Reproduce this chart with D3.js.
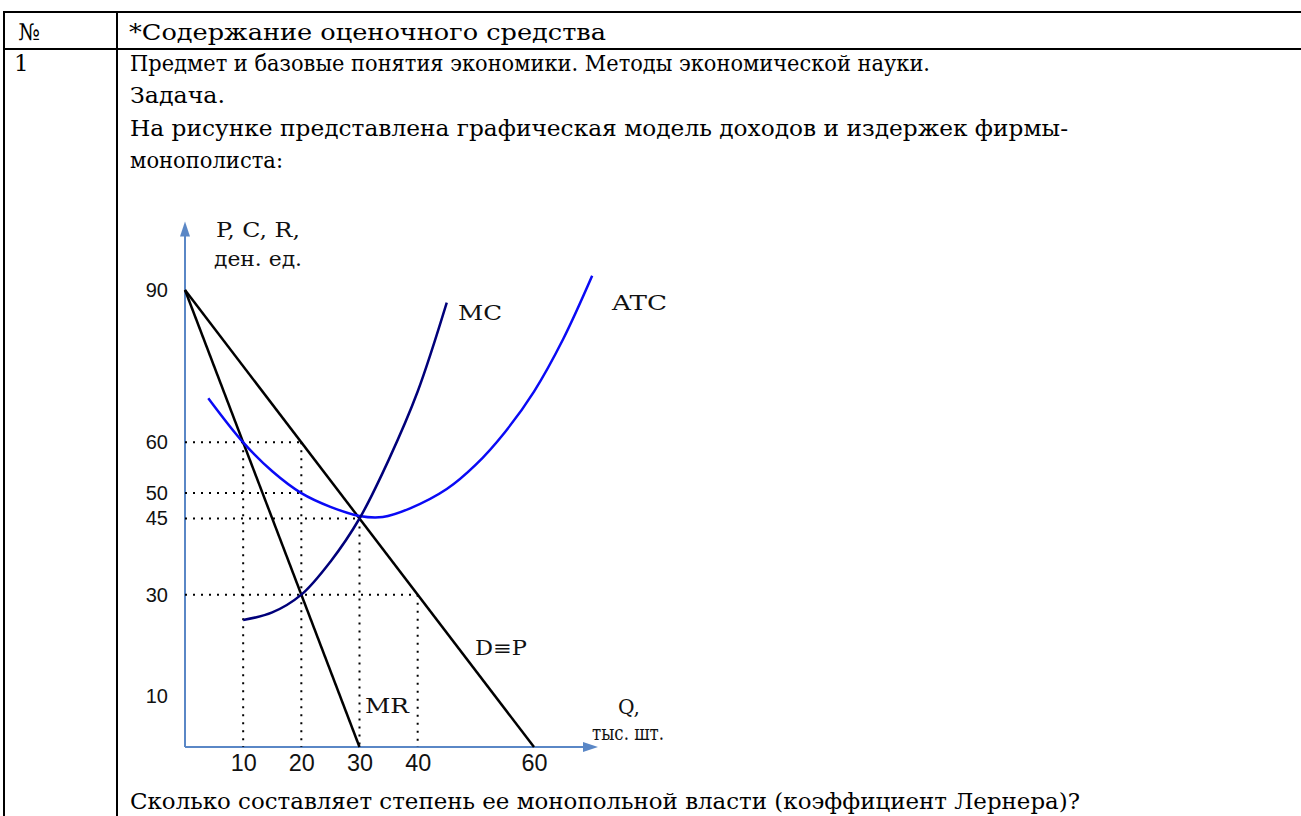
<!DOCTYPE html>
<html>
<head>
    <meta charset="utf-8">
    <title>Монополист</title>
    <script src="https://cdnjs.cloudflare.com/ajax/libs/d3/7.8.5/d3.min.js"></script>
    <style>
        html, body { margin: 0; padding: 0; background: #fff; overflow: hidden; }
        .doc { font-family: "DejaVu Serif", "Liberation Serif", serif; font-size: 23px; fill: #000; }
        .tick-y { font-family: "Liberation Sans", Arial, sans-serif; font-size: 20px; fill: #111; }
        .tick-x { font-family: "Liberation Sans", Arial, sans-serif; font-size: 24px; fill: #111; }
        .lbl { font-family: "DejaVu Serif", serif; font-size: 20px; fill: #111; }
    </style>
</head>
<body>
    <div id="chart"></div>

    <script>
        // Curves (Q in thousands, P in money units)
        const demand = [[0, 90], [60, 0]];
        const marginalRevenue = [[0, 90], [30, 0]];
        const marginalCost = [[10, 25], [15, 26.5], [20, 30], [25, 36.5], [30, 45], [35, 56.5], [40, 70], [45, 87.5]];
        const averageCost = [[4, 68.7], [10, 60], [15, 54.3], [20, 50], [25, 47.3], [30, 45.5], [34, 45.3],
                             [38.7, 47], [45, 50.8], [50, 55.6], [55, 62], [60, 70], [65, 80.3], [70, 92.8]];

        // tick labels
        const xTicks = [10, 20, 30, 40, 60];
        const yTicks = [10, 30, 45, 50, 60, 90];

        // dotted guides: [price, quantity reached]
        const hGuides = [[60, 20], [50, 20], [45, 30], [30, 40]];
        // [quantity, price reached]
        const vGuides = [[10, 60], [20, 60], [30, 45], [40, 30]];

        const width = 1301;
        const height = 816;

        const svg = d3.select('#chart')
            .append('svg')
            .attr('width', width)
            .attr('height', height);

        // --- document table around the picture ---
        const table = svg.append('g');
        const border = (x1, y1, x2, y2) => table.append('line')
            .attr('x1', x1).attr('y1', y1).attr('x2', x2).attr('y2', y2)
            .attr('stroke', '#000').attr('stroke-width', 2);
        border(4, 12, width + 5, 12);
        border(4, 49, width + 5, 49);
        border(4, 11, 4, height + 5);
        border(117, 11, 117, height + 5);

        // widths of the lines as they sit in the scan
        const docText = (x, y, t, w) => {
            const el = table.append('text').attr('class', 'doc')
                .attr('x', x).attr('y', y).text(t);
            if (w) el.attr('textLength', w).attr('lengthAdjust', 'spacingAndGlyphs');
        };
        docText(18, 40, '№');
        docText(14, 71, '1');
        docText(129, 40, '*Содержание оценочного средства', 477);
        docText(130, 71, 'Предмет и базовые понятия экономики. Методы экономической науки.', 800);
        docText(130, 103, 'Задача.', 95);
        docText(130, 136, 'На рисунке представлена графическая модель доходов и издержек фирмы-', 938);
        docText(130, 168, 'монополиста:', 153);
        docText(130, 809, 'Сколько составляет степень ее монопольной власти (коэффициент Лернера)?', 950);

        // --- chart ---
        const x = d3.scaleLinear().domain([0, 60]).range([185, 534]);
        const y = d3.scaleLinear().domain([0, 90]).range([747, 290]);
        const xEnd = 71, yEnd = 103.5;   // where the axis arrows end

        const axisColor = '#5a87c6';
        const chart = svg.append('g');

        // axes lines and arrowheads
        chart.append('line')
            .attr('x1', x(0)).attr('y1', y(0)).attr('x2', x(0)).attr('y2', y(yEnd) + 8)
            .attr('stroke', axisColor).attr('stroke-width', 2);
        chart.append('line')
            .attr('x1', x(0)).attr('y1', y(0)).attr('x2', x(xEnd) - 8).attr('y2', y(0))
            .attr('stroke', axisColor).attr('stroke-width', 2);
        chart.append('path')
            .attr('d', `M${x(0)},${y(yEnd)} L${x(0) - 5},${y(yEnd) + 15} L${x(0) + 5},${y(yEnd) + 15} Z`)
            .attr('fill', axisColor);
        chart.append('path')
            .attr('d', `M${x(xEnd)},${y(0)} L${x(xEnd) - 15},${y(0) - 5} L${x(xEnd) - 15},${y(0) + 5} Z`)
            .attr('fill', axisColor);

        // tick labels via d3 axes
        chart.append('g')
            .attr('transform', `translate(${x(0)},0)`)
            .call(d3.axisLeft(y).tickValues(yTicks).tickSize(0).tickPadding(17))
            .call(g => g.select('.domain').remove())
            .call(g => g.selectAll('text').attr('class', 'tick-y').attr('font-family', null).attr('font-size', null));

        chart.append('g')
            .attr('transform', `translate(0,${y(0)})`)
            .call(d3.axisBottom(x).tickValues(xTicks).tickSize(0).tickPadding(7))
            .call(g => g.select('.domain').remove())
            .call(g => g.selectAll('text').attr('class', 'tick-x').attr('font-family', null).attr('font-size', null)
                .attr('textLength', 26).attr('lengthAdjust', 'spacingAndGlyphs'));

        // dotted guides
        const dots = chart.append('g')
            .attr('stroke', '#000')
            .attr('stroke-width', 2)
            .attr('stroke-dasharray', '2,6');
        dots.selectAll('.hg')
            .data(hGuides)
            .join('line')
            .attr('x1', x(0)).attr('x2', d => x(d[1]))
            .attr('y1', d => y(d[0])).attr('y2', d => y(d[0]));
        dots.selectAll('.vg')
            .data(vGuides)
            .join('line')
            .attr('class', 'vg')
            .attr('x1', d => x(d[0])).attr('x2', d => x(d[0]))
            .attr('y1', d => y(d[1])).attr('y2', y(0));

        const straight = d3.line().x(d => x(d[0])).y(d => y(d[1]));
        const smooth = d3.line().x(d => x(d[0])).y(d => y(d[1])).curve(d3.curveCatmullRom.alpha(0.5));

        chart.append('path').attr('d', straight(demand))
            .attr('fill', 'none').attr('stroke', '#000').attr('stroke-width', 2.5);
        chart.append('path').attr('d', straight(marginalRevenue))
            .attr('fill', 'none').attr('stroke', '#000').attr('stroke-width', 2.5);
        chart.append('path').attr('d', smooth(averageCost))
            .attr('fill', 'none').attr('stroke', '#0a0af5').attr('stroke-width', 2.5);
        chart.append('path').attr('d', smooth(marginalCost))
            .attr('fill', 'none').attr('stroke', '#00007a').attr('stroke-width', 2.5);

        // labels
        const label = (px, py, t, w) => chart.append('text').attr('class', 'lbl')
            .attr('x', px).attr('y', py).text(t)
            .attr('textLength', w).attr('lengthAdjust', 'spacingAndGlyphs');
        label(216, 237, 'P, C, R,', 84);
        label(214, 266, 'ден. ед.', 88);
        label(458, 320, 'MC', 44);
        label(612, 310, 'ATC', 55);
        label(475, 655, 'D≡P', 52);
        label(365, 713, 'MR', 44);
        label(618, 714, 'Q,', 22);
        label(592, 740, 'тыс. шт.', 72);
    </script>
</body>
</html>
